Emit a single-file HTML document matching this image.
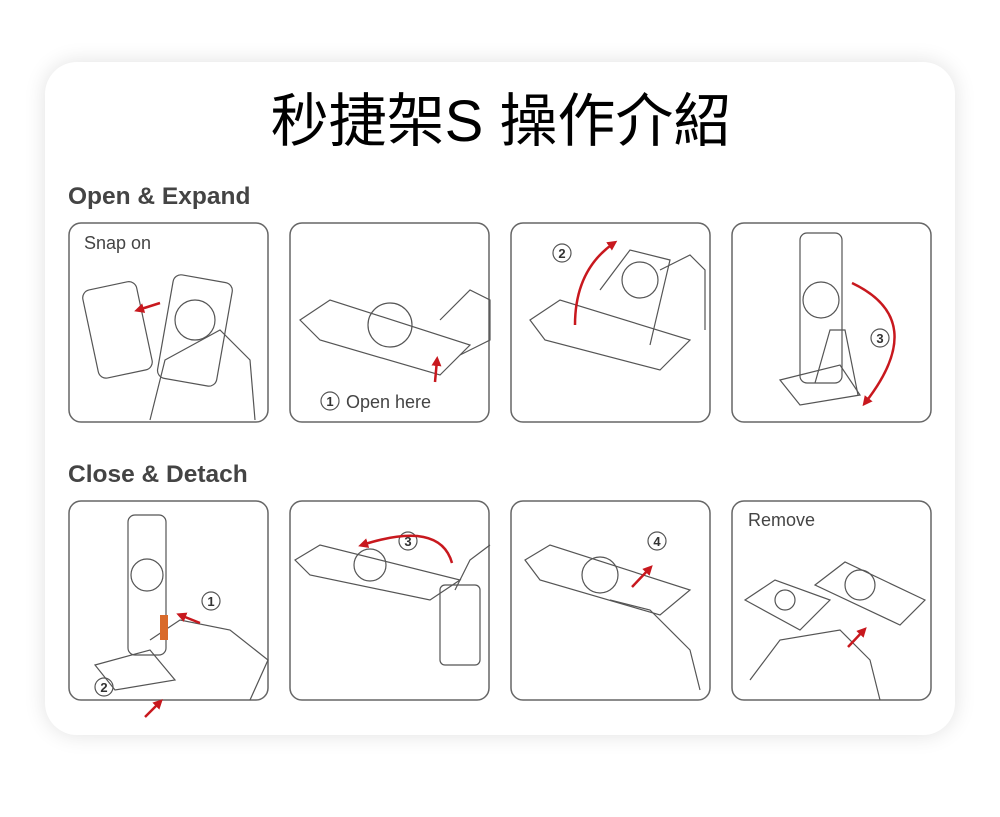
<!DOCTYPE html>
<html><head><meta charset="utf-8"><style>
html,body{margin:0;padding:0;background:#fff;width:1000px;height:817px;overflow:hidden}
.card{position:absolute;left:45px;top:62px;width:910px;height:673px;background:#fff;border-radius:32px;box-shadow:0 0 22px rgba(0,0,0,0.12)}
</style></head><body>
<div class="card"></div>
<svg width="1000" height="817" style="position:absolute;left:0;top:0" font-family="Liberation Sans, sans-serif">
<defs>
<marker id="ah" viewBox="0 0 10 10" refX="6" refY="5" markerWidth="4" markerHeight="4" orient="auto"><path d="M0,0L10,5L0,10z" fill="#c8181e"/></marker>
</defs>
<text x="501" y="141" text-anchor="middle" font-size="58" font-family="Liberation Sans, Noto Sans CJK TC, sans-serif" fill="#000">秒捷架S 操作介紹</text>
<text x="68" y="204" font-size="24.5" font-weight="bold" fill="#444">Open &amp; Expand</text>
<text x="68" y="482" font-size="24.5" font-weight="bold" fill="#444">Close &amp; Detach</text>
<g fill="none" stroke="#666" stroke-width="1.5">
<rect x="69" y="223" width="199" height="199" rx="12"/>
<rect x="290" y="223" width="199" height="199" rx="12"/>
<rect x="511" y="223" width="199" height="199" rx="12"/>
<rect x="732" y="223" width="199" height="199" rx="12"/>
<rect x="69" y="501" width="199" height="199" rx="12"/>
<rect x="290" y="501" width="199" height="199" rx="12"/>
<rect x="511" y="501" width="199" height="199" rx="12"/>
<rect x="732" y="501" width="199" height="199" rx="12"/>
</g>
<g font-size="18" fill="#444">
<text x="84" y="249">Snap on</text>
<text x="346" y="408">Open here</text>
<text x="748" y="526">Remove</text>
</g>
<g fill="none" stroke="#555" stroke-width="1.2">
<rect x="90" y="285" width="55" height="90" rx="8" transform="rotate(-12 117 330)"/>
<rect x="165" y="278" width="60" height="105" rx="8" transform="rotate(10 195 330)"/>
<circle cx="195" cy="320" r="20"/>
<path d="M150 420 L165 360 L220 330 L250 360 L255 420"/>
<path d="M300 320 L330 300 L470 345 L440 375 L320 340 Z"/>
<circle cx="390" cy="325" r="22"/>
<path d="M440 320 L470 290 L490 300 L490 340 L460 355"/>
<circle cx="330" cy="401" r="9"/>
<path d="M530 320 L560 300 L690 340 L660 370 L545 340 Z"/>
<path d="M600 290 L630 250 L670 260 L650 345"/>
<circle cx="640" cy="280" r="18"/>
<path d="M660 270 L690 255 L705 270 L705 330"/>
<circle cx="562" cy="253" r="9"/>
<rect x="800" y="233" width="42" height="150" rx="7"/>
<circle cx="821" cy="300" r="18"/>
<path d="M780 380 L840 365 L860 395 L800 405 Z"/>
<path d="M815 383 L830 330 L845 330 L858 395"/>
<circle cx="880" cy="338" r="9"/>
<rect x="128" y="515" width="38" height="140" rx="7"/>
<circle cx="147" cy="575" r="16"/>
<path d="M95 665 L150 650 L175 680 L115 690 Z"/>
<path d="M150 640 L180 620 L230 630 L268 660 L250 700"/>
<circle cx="211" cy="601" r="9"/>
<circle cx="104" cy="687" r="9"/>
<path d="M295 560 L320 545 L460 580 L430 600 L310 575 Z"/>
<circle cx="370" cy="565" r="16"/>
<rect x="440" y="585" width="40" height="80" rx="5"/>
<path d="M455 590 L470 560 L490 545"/>
<circle cx="408" cy="541" r="9"/>
<path d="M525 560 L550 545 L690 590 L660 615 L540 580 Z"/>
<circle cx="600" cy="575" r="18"/>
<path d="M610 600 L650 610 L690 650 L700 690"/>
<circle cx="657" cy="541" r="9"/>
<path d="M745 600 L775 580 L830 600 L800 630 Z"/>
<circle cx="785" cy="600" r="10"/>
<path d="M815 585 L845 562 L925 600 L900 625 Z"/>
<circle cx="860" cy="585" r="15"/>
<path d="M750 680 L780 640 L840 630 L870 660 L880 700"/>
</g>
<g font-size="13" fill="#333" text-anchor="middle" font-weight="bold">
<text x="330" y="406">1</text><text x="562" y="258">2</text><text x="880" y="343">3</text>
<text x="211" y="606">1</text><text x="104" y="692">2</text><text x="408" y="546">3</text><text x="657" y="546">4</text>
</g>
<g fill="none" stroke="#c8181e" stroke-width="2.5" marker-end="url(#ah)">
<path d="M160 303 L138 310"/>
<path d="M435 382 L437 360"/>
<path d="M575 325 Q575 270 614 243"/>
<path d="M852 283 Q930 320 865 403"/>
<path d="M200 623 L180 615"/>
<path d="M145 717 L160 702"/>
<path d="M452 563 Q440 520 362 545"/>
<path d="M632 587 L650 568"/>
<path d="M848 647 L864 630"/>
</g>
<rect x="160" y="615" width="8" height="25" fill="#d96a2a"/>
</svg>
</body></html>
